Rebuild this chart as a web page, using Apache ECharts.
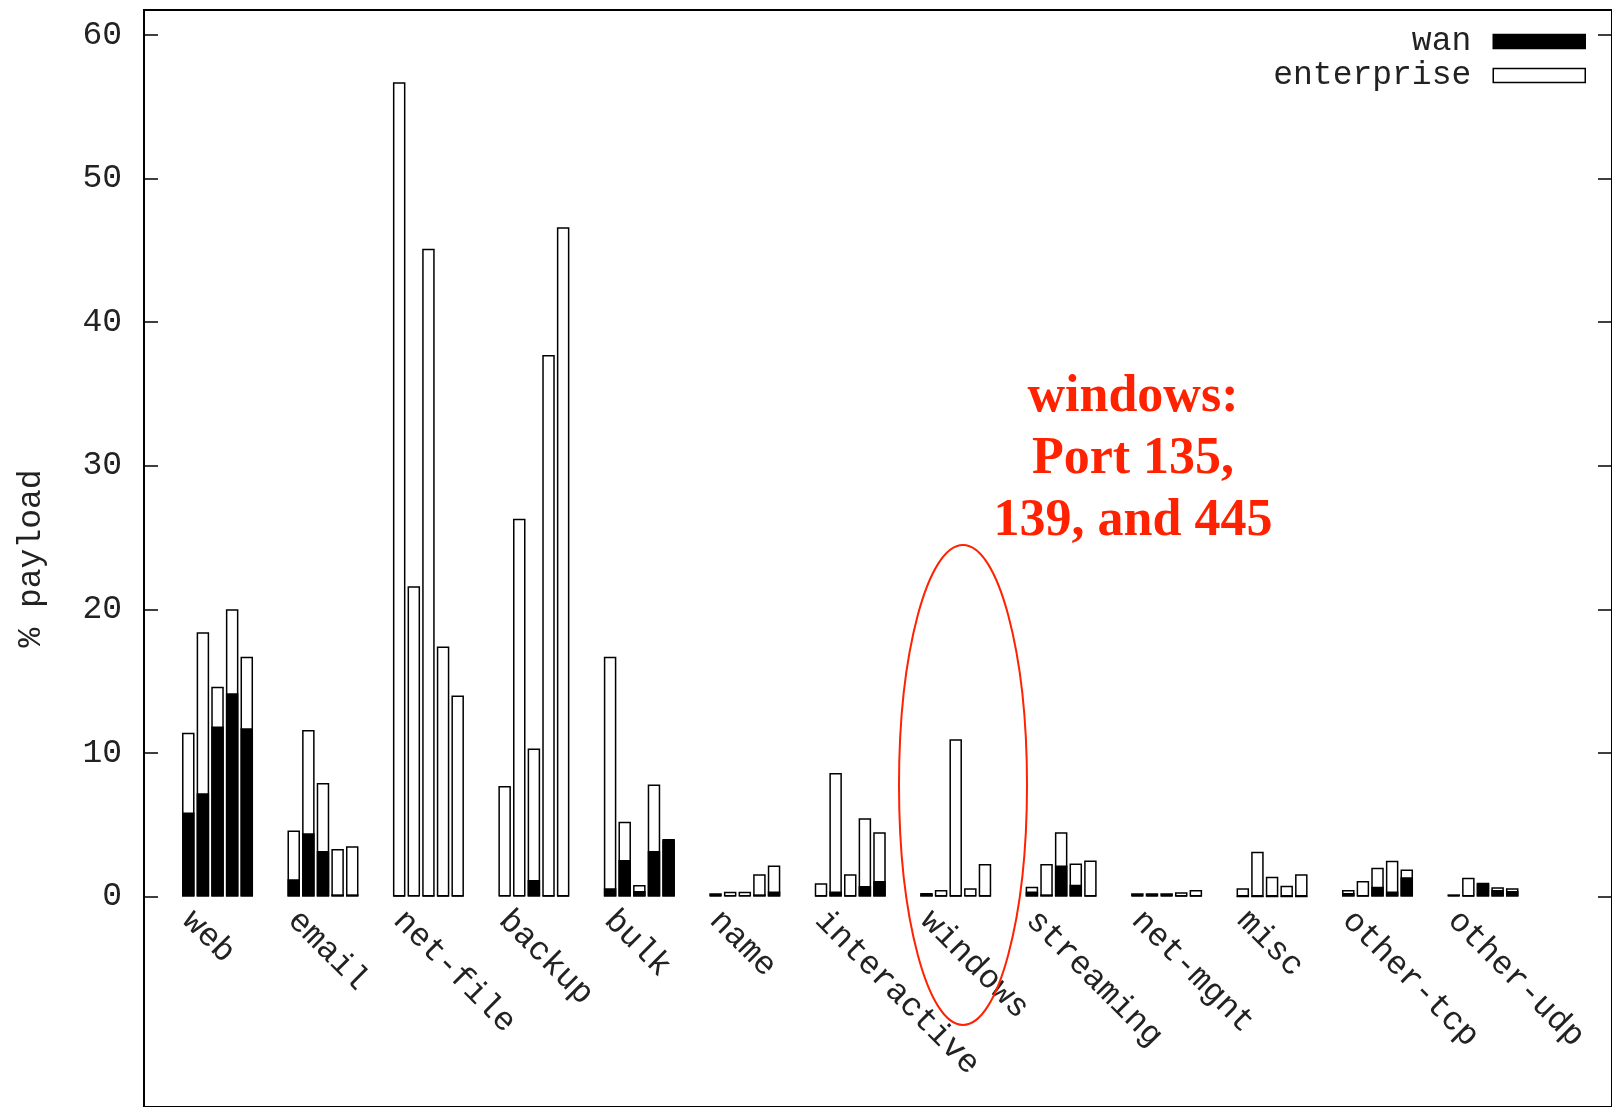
<!DOCTYPE html>
<html><head><meta charset="utf-8">
<script src="https://cdn.jsdelivr.net/npm/echarts@6/dist/echarts.min.js"></script>
<style>html,body{margin:0;padding:0;background:#fff}#c{width:1612px;height:1107px}</style>
</head><body><div id="c"></div>
<script>
// ---- data ----
const categories = ['web','email','net-file','backup','bulk','name','interactive','windows','streaming','net-mgnt','misc','other-tcp','other-udp'];
const yTicks = [0, 10, 20, 30, 40, 50, 60];
// five bars per category (enterprise traces), % payload
const enterprise = [
  [11.4, 18.4, 14.6, 20.0, 16.7],   // web
  [4.6, 11.6, 7.9, 3.3, 3.5],       // email
  [56.7, 21.6, 45.1, 17.4, 14.0],   // net-file
  [7.7, 26.3, 10.3, 37.7, 46.6],    // backup
  [16.7, 5.2, 0.8, 7.8, 3.9],       // bulk
  [0.1, 0.33, 0.33, 1.55, 2.15],    // name
  [0.92, 8.6, 1.54, 5.44, 4.47],    // interactive
  [0.15, 0.45, 10.95, 0.57, 2.26],  // windows
  [0.68, 2.26, 4.47, 2.29, 2.5],    // streaming
  [0.1, 0.1, 0.1, 0.3, 0.45],       // net-mgnt
  [0.57, 3.12, 1.38, 0.75, 1.54],   // misc
  [0.45, 1.08, 2.0, 2.49, 1.87],    // other-tcp
  [0.1, 1.31, 0.9, 0.64, 0.57]      // other-udp
];
const wan = [
  [5.84, 7.19, 11.83, 14.15, 11.71],
  [1.2, 4.4, 3.17, 0.15, 0.15],
  [0.05, 0.1, 0.05, 0.05, 0.05],
  [0.1, 0.1, 1.15, 0.05, 0.05],
  [0.57, 2.54, 0.38, 3.17, 4.0],
  [0.22, 0.1, 0.1, 0.15, 0.35],
  [0.05, 0.34, 0.05, 0.73, 1.08],
  [0.24, 0.05, 0.05, 0.1, 0.05],
  [0.34, 0.15, 2.15, 0.82, 0.05],
  [0.22, 0.22, 0.22, 0.05, 0.05],
  [0, 0, 0, 0, 0],
  [0.25, 0.05, 0.68, 0.34, 1.34],
  [0.15, 0.05, 0.96, 0.45, 0.38]
];
const annotation = 'windows:\nPort 135,\n139, and 445';

// ---- layout / style ----
const Y_MIN = -14.66, Y_MAX = 61.73;
const MONO = '"Liberation Mono", "Courier New", monospace';
const FS = 33;
const BAR_W = 12.5, BAR_GAP = '17%';

const series = [];
for (let k = 0; k < 5; k++) {
  series.push({
    type: 'bar', name: 'enterprise', xAxisIndex: 1, yAxisIndex: 1,
    data: enterprise.map(r => r[k]),
    barWidth: BAR_W, barGap: BAR_GAP, z: 2, silent: true,
    itemStyle: { color: '#fff', borderColor: '#000', borderWidth: 1.5 }
  });
}
for (let k = 0; k < 5; k++) {
  series.push({
    type: 'bar', name: 'wan', xAxisIndex: 2, yAxisIndex: 1,
    data: wan.map(r => r[k]),
    barWidth: BAR_W, barGap: BAR_GAP, z: 3, silent: true,
    itemStyle: { color: '#000', borderColor: '#000', borderWidth: 1.5 }
  });
}

const chart = echarts.init(document.getElementById('c'), null, { renderer: 'canvas' });
chart.setOption({
  animation: false,
  backgroundColor: '#fff',
  grid: [
    { left: 144, top: 10, width: 1478, height: 1097, show: true, borderColor: '#000', borderWidth: 2, backgroundColor: 'transparent' },
    { left: 164.8, top: 10, width: 1370.9, height: 1097 },
    { left: 134.8, top: 10, width: 1370.9, height: 886.5 }
  ],
  xAxis: [
    { gridIndex: 0, type: 'value', min: 0, max: 1, show: false },
    { gridIndex: 1, type: 'category', data: categories, show: false },
    { gridIndex: 1, type: 'category', data: categories, show: false },
    { gridIndex: 2, type: 'category', data: categories,
      axisLine: { show: false }, axisTick: { show: false }, splitLine: { show: false },
      axisLabel: { rotate: -45, margin: 19, interval: 0, fontFamily: MONO, fontSize: FS, color: '#222' } }
  ],
  yAxis: [
    { gridIndex: 0, type: 'value', min: Y_MIN, max: Y_MAX,
      axisLine: { show: true, lineStyle: { color: '#000', width: 2 } },
      axisTick: { show: true, inside: true, length: 14, customValues: yTicks, lineStyle: { color: '#000', width: 1.5 } },
      axisLabel: { customValues: yTicks, margin: 22, fontFamily: MONO, fontSize: FS, color: '#222' },
      splitLine: { show: false },
      name: '% payload', nameLocation: 'middle', nameGap: 96,
      nameTextStyle: { fontFamily: MONO, fontSize: FS, color: '#222' } },
    { gridIndex: 1, type: 'value', min: Y_MIN, max: Y_MAX, show: false, splitLine: { show: false } },
    { gridIndex: 2, type: 'value', show: false, splitLine: { show: false } },
    { gridIndex: 0, type: 'value', position: 'right', min: Y_MIN, max: Y_MAX,
      axisLine: { show: false },
      axisTick: { show: true, inside: true, length: 14, customValues: yTicks, lineStyle: { color: '#000', width: 1.5 } },
      axisLabel: { show: false }, splitLine: { show: false } }
  ],
  legend: {
    data: [
      { name: 'wan', itemStyle: { color: '#000', borderColor: '#000', borderWidth: 1.5 } },
      { name: 'enterprise', itemStyle: { color: '#fff', borderColor: '#000', borderWidth: 1.5 } }
    ],
    orient: 'vertical', right: 26, top: 25, padding: 0, align: 'right',
    itemWidth: 92, itemHeight: 14, itemGap: 1, icon: 'rect', selectedMode: false,
    textStyle: { fontFamily: MONO, fontSize: FS, color: '#222', lineHeight: 32, padding: [0, 17, 0, 0] }
  },
  graphic: [
    { type: 'ellipse', shape: { cx: 963, cy: 785, rx: 64, ry: 240 }, style: { fill: 'none', stroke: '#ff2200', lineWidth: 2 }, z: 10 },
    { type: 'text', x: 1133, y: 367, style: { text: annotation, textAlign: 'center', textVerticalAlign: 'top',
      font: 'bold 52px "Liberation Serif", "Times New Roman", serif', fill: '#ff2200', lineHeight: 62 }, z: 10 }
  ],
  series: series
});
</script></body></html>
